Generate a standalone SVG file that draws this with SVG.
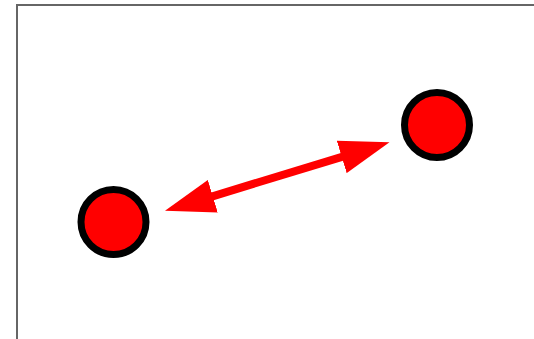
<svg xmlns="http://www.w3.org/2000/svg" width="534" height="339" viewBox="0 0 534 339">
  <style>
    .frame { fill: none; stroke: #666666; stroke-width: 2; }
    .node { fill: #ff0000; stroke: #000000; stroke-width: 7; }
    .link { stroke: #ff0000; stroke-width: 8; fill: none; }
  </style>
  <defs>
    <marker id="head" viewBox="0 0 50 34" markerWidth="50" markerHeight="34" markerUnits="userSpaceOnUse" refX="2" refY="17" orient="auto-start-reverse">
      <path d="M0,0 L50,17 L0,34 z" fill="#ff0000"/>
    </marker>
  </defs>
  <rect width="534" height="339" fill="#ffffff"/>
  <rect class="frame" x="17" y="5" width="540" height="360"/>
  <g id="connectors">
    <line class="link" x1="210.9" y1="196.8" x2="343.6" y2="156.3" marker-start="url(#head)" marker-end="url(#head)"/>
  </g>
  <g id="node-a">
    <circle class="node" cx="113.5" cy="222" r="32.5"/>
  </g>
  <g id="node-b">
    <circle class="node" cx="437" cy="125" r="32.5"/>
  </g>
</svg>
